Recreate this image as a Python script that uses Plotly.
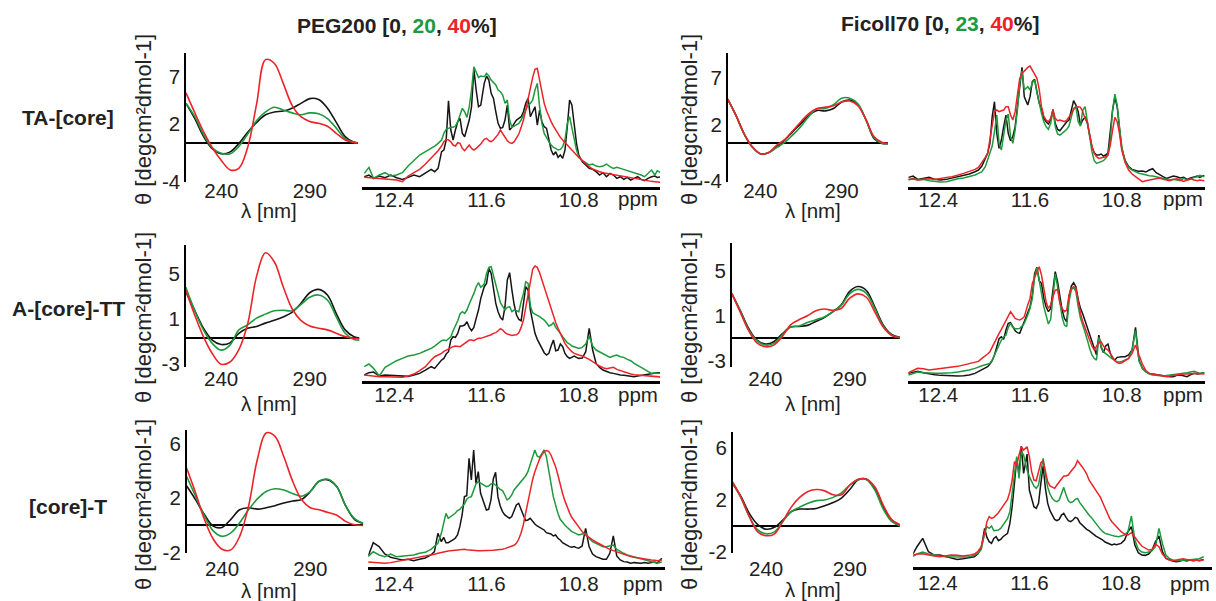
import plotly.graph_objects as go

W, H = 1216, 601

# ---------------- data ----------------
WAVELENGTH = [220, 225, 230, 235, 240, 245, 250, 255, 260, 265, 270,
              275, 280, 285, 290, 295, 300, 305, 310, 315, 320]

PPM = [12.66, 12.62, 12.58, 12.53, 12.48, 12.43, 12.38, 12.33, 12.28, 12.23,
       12.18, 12.13, 12.08, 12.05, 12.02, 11.99, 11.97, 11.95, 11.93, 11.91,
       11.89, 11.87, 11.85, 11.83, 11.81, 11.79, 11.77, 11.75, 11.73, 11.71,
       11.69, 11.67, 11.65, 11.62, 11.60, 11.58, 11.56, 11.54, 11.52, 11.50,
       11.48, 11.46, 11.44, 11.42, 11.40, 11.38, 11.36, 11.34, 11.32, 11.30,
       11.28, 11.26, 11.24, 11.22, 11.20, 11.18, 11.16, 11.14, 11.12, 11.10,
       11.08, 11.06, 11.04, 11.02, 11.00, 10.98, 10.96, 10.94, 10.92, 10.90,
       10.88, 10.86, 10.84, 10.82, 10.80, 10.77, 10.74, 10.71, 10.68, 10.65,
       10.62, 10.59, 10.56, 10.53, 10.50, 10.47, 10.44, 10.41, 10.38, 10.35,
       10.32, 10.29, 10.26, 10.23, 10.20, 10.17, 10.14, 10.12, 10.08]

CD_TICKS_X = [240, 290]
NMR_TICKS_X = [12.4, 11.6, 10.8]

# CD spectra (theta) -- PEG200 0 / 20 / 40 %
CD_PEG_TA_0 = [4.2, 2.6, 0.7, -0.6, -1.1, -0.9, 0.0, 1.2, 2.2, 3.0, 3.3, 3.4, 3.7, 4.2, 4.7, 4.6, 3.7, 2.2, 0.7, 0.1, 0.0]
CD_PEG_TA_20 = [4.2, 2.8, 0.9, -0.5, -1.05, -1.1, -0.3, 1.0, 2.4, 3.3, 3.8, 3.5, 3.2, 3.0, 3.2, 3.1, 2.6, 1.6, 0.5, 0.1, 0.0]
CD_PEG_TA_40 = [5.3, 3.2, 1.2, -0.5, -1.8, -2.8, -2.6, -0.35, 4.2, 8.8, 8.4, 6.3, 4.0, 2.8, 2.3, 2.1, 1.8, 1.05, 0.35, 0.1, 0.0]

CD_PEG_ATT_0 = [4.15, 2.5, 0.9, -0.15, -0.55, -0.4, 0.45, 0.9, 1.05, 1.35, 1.6, 1.9, 2.3, 3.1, 4.05, 4.35, 3.85, 2.2, 0.75, 0.15, 0.0]
CD_PEG_ATT_20 = [4.55, 2.5, 0.75, -0.45, -1.05, -0.6, 0.75, 1.2, 1.8, 2.15, 2.45, 2.5, 2.45, 3.0, 3.65, 3.85, 3.4, 1.9, 0.45, -0.1, -0.15]
CD_PEG_ATT_40 = [4.3, 2.1, 0.15, -1.35, -2.3, -2.1, -1.0, 1.3, 5.5, 7.6, 6.8, 4.6, 2.65, 1.6, 1.1, 0.9, 0.75, 0.45, 0.15, 0.0, -0.05]

CD_PEG_CT_0 = [2.9, 1.9, 0.8, -0.05, -0.15, 0.45, 1.15, 1.3, 1.2, 1.3, 1.45, 1.65, 1.8, 1.9, 2.5, 3.25, 3.35, 2.85, 1.45, 0.45, 0.15]
CD_PEG_CT_20 = [3.6, 2.15, 0.7, -0.4, -0.8, -0.55, 0.2, 1.15, 1.95, 2.5, 2.7, 2.6, 2.35, 2.15, 2.5, 3.25, 3.4, 2.85, 1.45, 0.5, 0.15]
CD_PEG_CT_40 = [4.2, 2.4, 0.45, -1.0, -1.75, -1.8, -0.8, 1.4, 4.85, 6.8, 6.55, 5.05, 3.25, 1.9, 1.3, 1.15, 0.95, 0.75, 0.3, 0.05, 0.0]

# CD spectra -- Ficoll70 0 / 23 / 40 %
CD_FIC_TA_0 = [4.7, 3.0, 1.05, -0.35, -1.1, -1.0, -0.35, 0.35, 1.25, 2.1, 3.0, 3.5, 3.45, 3.7, 4.4, 4.6, 4.1, 2.5, 0.5, 0.0, 0.0]
CD_FIC_TA_23 = [4.7, 3.0, 1.05, -0.35, -1.1, -1.0, -0.45, 0.1, 0.9, 1.8, 2.9, 3.7, 3.7, 4.1, 4.8, 4.8, 4.2, 2.5, 0.6, 0.0, 0.0]
CD_FIC_TA_40 = [4.7, 3.0, 1.05, -0.35, -1.1, -1.0, -0.2, 0.4, 1.35, 2.3, 3.2, 3.7, 3.85, 4.0, 4.4, 4.5, 4.0, 2.5, 0.7, 0.1, 0.0]

CD_FIC_ATT_0 = [4.0, 2.5, 0.9, -0.15, -0.5, -0.3, 0.4, 1.0, 1.05, 1.15, 1.5, 1.85, 2.35, 2.95, 4.15, 4.6, 4.25, 2.8, 1.2, 0.35, 0.1]
CD_FIC_ATT_23 = [4.0, 2.45, 0.8, -0.2, -0.6, -0.45, 0.3, 1.0, 1.1, 1.4, 1.65, 1.9, 2.35, 2.9, 3.95, 4.35, 4.0, 2.65, 1.1, 0.3, 0.05]
CD_FIC_ATT_40 = [4.0, 2.35, 0.7, -0.4, -0.75, -0.6, 0.15, 1.2, 1.65, 2.0, 2.45, 2.6, 2.5, 2.65, 3.55, 3.95, 3.65, 2.35, 1.0, 0.25, 0.05]

CD_FIC_CT_0 = [3.25, 2.25, 0.95, 0.1, -0.25, -0.1, 0.45, 1.1, 1.3, 1.3, 1.35, 1.55, 1.8, 2.15, 2.8, 3.55, 3.6, 2.9, 1.45, 0.45, 0.0]
CD_FIC_CT_23 = [3.3, 2.15, 0.7, -0.3, -0.6, -0.45, 0.35, 1.1, 1.45, 1.75, 1.95, 2.0, 2.2, 2.55, 3.15, 3.55, 3.55, 2.75, 1.3, 0.35, 0.0]
CD_FIC_CT_40 = [3.4, 2.2, 0.7, -0.45, -0.75, -0.6, 0.35, 1.45, 2.2, 2.65, 2.8, 2.7, 2.4, 2.4, 3.15, 3.6, 3.6, 3.0, 1.6, 0.5, 0.1]

# 1H NMR imino spectra (arbitrary intensity) -- PEG200
NMR_PEG_TA_0 = [30, 35, 25, 32, 27, 35, 27, 22, 28, 35,
                30, 40, 52, 45, 55, 105, 110, 140, 258, 170,
                140, 170, 195, 205, 160, 150, 175, 200, 240, 352,
                290, 240, 245, 310, 332, 320, 280, 265, 225, 190,
                175, 178, 200, 245, 170, 178, 190, 200, 205, 210,
                225, 250, 265, 210, 225, 240, 185, 230, 195, 180,
                175, 140, 110, 95, 105, 88, 95, 85, 110, 180,
                260, 245, 190, 130, 95, 75, 65, 55, 52, 45,
                35, 42, 30, 40, 35, 25, 30, 22, 28, 20,
                25, 30, 22, 18, 25, 30, 32, 28, 30]
NMR_PEG_TA_20 = [40, 58, 25, 35, 42, 32, 35, 42, 62, 78,
                 95, 105, 115, 122, 130, 140, 160, 172, 175, 178,
                 178, 182, 195, 215, 235, 225, 208, 240, 290, 360,
                 345, 328, 332, 330, 340, 332, 320, 312, 305, 290,
                 285, 275, 250, 260, 200, 178, 182, 185, 190, 200,
                 215, 230, 245, 250, 260, 290, 310, 240, 190, 160,
                 145, 135, 125, 118, 115, 110, 112, 120, 140, 190,
                 210, 178, 140, 110, 90, 78, 72, 65, 68, 62,
                 60, 62, 68, 60, 55, 58, 55, 52, 48, 45,
                 42, 38, 35, 30, 40, 50, 35, 48, 40]
NMR_PEG_TA_40 = [28, 27, 26, 25, 24, 22, 20, 15, 32, 42,
                 52, 68, 85, 95, 108, 122, 135, 142, 140, 135,
                 125, 122, 132, 130, 115, 108, 118, 125, 115, 110,
                 115, 122, 128, 142, 145, 138, 135, 140, 148, 157,
                 170, 160, 148, 138, 132, 130, 135, 145, 158, 178,
                 200, 230, 265, 300, 328, 352, 355, 320, 280, 250,
                 228, 210, 195, 182, 170, 160, 148, 140, 132, 125,
                 118, 110, 102, 95, 88, 78, 68, 60, 53, 48,
                 45, 42, 40, 38, 36, 35, 34, 32, 30, 28,
                 26, 24, 22, 20, 18, 16, 15, 14, 13]

NMR_PEG_ATT_0 = [17, 24, 26, 14, 17, 16, 14, 14, 13, 17,
                 22, 32, 42, 37, 50, 62, 67, 80, 87, 122,
                 132, 130, 142, 164, 164, 167, 177, 160, 150, 160,
                 187, 212, 247, 282, 292, 337, 322, 277, 232, 207,
                 190, 182, 222, 302, 324, 272, 227, 197, 184, 180,
                 232, 282, 272, 212, 177, 142, 124, 112, 97, 84,
                 77, 82, 104, 122, 90, 92, 110, 102, 82, 72,
                 67, 70, 74, 70, 67, 68, 87, 157, 92, 52,
                 40, 32, 27, 24, 22, 19, 17, 16, 14, 12,
                 12, 14, 16, 18, 19, 22, 22, 24, 24]
NMR_PEG_ATT_20 = [42, 50, 37, 14, 40, 50, 60, 67, 74, 77,
                  82, 90, 97, 104, 112, 120, 122, 120, 126, 132,
                  150, 164, 180, 200, 207, 202, 212, 230, 244, 262,
                  282, 294, 280, 290, 322, 340, 342, 312, 287, 262,
                  234, 222, 212, 220, 222, 207, 212, 210, 207, 237,
                  262, 297, 292, 224, 204, 200, 197, 192, 187, 182,
                  174, 164, 167, 174, 160, 152, 142, 132, 122, 114,
                  110, 104, 102, 100, 97, 100, 110, 134, 104, 92,
                  87, 80, 77, 70, 74, 77, 72, 70, 64, 60,
                  52, 47, 40, 34, 27, 22, 24, 22, 22]
NMR_PEG_ATT_40 = [17, 15, 13, 12, 12, 12, 11, 10, 14, 20,
                  30, 42, 62, 72, 77, 82, 88, 92, 96, 100,
                  102, 104, 102, 102, 107, 112, 117, 122, 122, 120,
                  124, 127, 127, 130, 132, 136, 138, 142, 144, 150,
                  156, 152, 144, 140, 137, 136, 137, 138, 144, 160,
                  182, 222, 262, 307, 334, 344, 340, 324, 302, 277,
                  257, 234, 214, 194, 174, 157, 140, 124, 112, 102,
                  94, 87, 82, 79, 77, 74, 70, 64, 57, 50,
                  44, 39, 36, 38, 40, 34, 30, 26, 22, 20,
                  18, 17, 16, 14, 14, 13, 12, 11, 11]

NMR_PEG_CT_0 = [32, 37, 74, 62, 40, 30, 26, 22, 24, 20,
                24, 28, 37, 47, 102, 77, 90, 74, 74, 77,
                82, 87, 97, 122, 157, 212, 215, 327, 262, 352,
                252, 287, 222, 192, 172, 174, 202, 265, 285, 212,
                184, 167, 157, 152, 147, 152, 167, 187, 192, 172,
                157, 140, 142, 147, 137, 130, 124, 120, 118, 112,
                104, 102, 100, 94, 97, 87, 82, 74, 70, 64,
                62, 60, 62, 59, 57, 64, 117, 62, 40, 32,
                27, 24, 24, 42, 94, 34, 22, 17, 16, 12,
                14, 12, 12, 14, 12, 14, 16, 12, 27]
NMR_PEG_CT_20 = [30, 34, 47, 37, 32, 40, 32, 34, 36, 37,
                 42, 45, 54, 62, 72, 102, 132, 162, 147, 152,
                 157, 162, 170, 174, 182, 190, 204, 210, 212, 234,
                 250, 257, 252, 246, 242, 244, 250, 252, 247, 240,
                 234, 230, 217, 202, 207, 217, 232, 240, 250, 257,
                 264, 274, 287, 307, 332, 352, 334, 330, 340, 352,
                 332, 297, 252, 212, 184, 162, 144, 134, 127, 120,
                 114, 107, 104, 100, 97, 100, 102, 87, 77, 72,
                 67, 62, 62, 64, 67, 54, 47, 42, 37, 34,
                 32, 30, 26, 22, 19, 16, 13, 12, 16]
NMR_PEG_CT_40 = [17, 16, 14, 13, 12, 14, 17, 20, 24, 27,
                 30, 32, 36, 39, 42, 45, 47, 47, 49, 50,
                 51, 52, 52, 53, 54, 54, 53, 52, 52, 52,
                 51, 50, 50, 50, 49, 50, 50, 51, 52, 52,
                 52, 54, 56, 58, 60, 62, 66, 72, 84, 102,
                 127, 162, 197, 234, 262, 287, 307, 324, 337, 347,
                 350, 348, 337, 322, 302, 277, 247, 222, 200, 180,
                 164, 150, 140, 130, 120, 107, 97, 89, 82, 76,
                 70, 64, 59, 54, 50, 46, 42, 38, 35, 32,
                 30, 28, 26, 24, 23, 22, 21, 20, 21]

# 1H NMR -- Ficoll70
NMR_FIC_TA_0 = [28, 32, 22, 26, 28, 22, 20, 22, 26, 30,
                35, 38, 45, 50, 62, 85, 100, 130, 210, 255,
                160, 115, 140, 180, 215, 160, 138, 150, 180, 240,
                300, 358, 270, 245, 270, 315, 322, 290, 250, 235,
                205, 195, 188, 200, 232, 190, 172, 168, 178, 185,
                195, 200, 225, 258, 245, 225, 185, 200, 208, 190,
                155, 120, 102, 95, 95, 98, 92, 95, 102, 160,
                230, 268, 240, 175, 115, 78, 60, 52, 48, 46,
                47, 44, 50, 54, 42, 35, 30, 25, 28, 32,
                30, 26, 28, 22, 26, 30, 32, 28, 34]
NMR_FIC_TA_23 = [20, 25, 20, 22, 18, 16, 14, 15, 20, 24,
                 26, 30, 35, 40, 45, 60, 80, 100, 122, 165,
                 215, 130, 110, 155, 200, 218, 150, 130, 170, 230,
                 310, 348, 290, 300, 290, 312, 320, 282, 245, 220,
                 195, 180, 172, 190, 228, 180, 158, 155, 160, 165,
                 172, 182, 205, 235, 240, 195, 182, 230, 240, 200,
                 150, 105, 78, 70, 72, 74, 78, 85, 95, 140,
                 230, 278, 245, 180, 120, 75, 58, 50, 45, 40,
                 38, 35, 33, 32, 30, 28, 26, 22, 20, 22,
                 20, 18, 25, 20, 22, 28, 30, 34, 30]
NMR_FIC_TA_40 = [22, 23, 20, 22, 24, 22, 26, 28, 30, 34,
                 40, 46, 52, 58, 72, 88, 100, 140, 185, 225,
                 230, 225, 228, 230, 240, 240, 215, 200, 225, 275,
                 325, 340, 348, 358, 362, 350, 340, 325, 292, 240,
                 212, 200, 195, 205, 230, 205, 198, 200, 198, 195,
                 200, 208, 218, 232, 238, 240, 238, 225, 205, 195,
                 155, 120, 100, 90, 85, 86, 88, 90, 95, 125,
                 170, 208, 195, 160, 110, 72, 50, 38, 30, 22,
                 15, 18, 20, 22, 24, 26, 22, 20, 18, 22,
                 24, 20, 16, 20, 24, 20, 18, 20, 18]

NMR_FIC_ATT_0 = [22, 24, 28, 24, 20, 18, 16, 15, 14, 14,
                 15, 17, 22, 27, 32, 38, 42, 50, 60, 77,
                 102, 126, 132, 124, 152, 172, 174, 160, 150, 144,
                 142, 160, 177, 202, 222, 257, 322, 340, 300, 292,
                 247, 222, 207, 217, 272, 327, 297, 247, 212, 187,
                 177, 252, 284, 294, 282, 244, 217, 200, 180, 160,
                 140, 120, 97, 77, 137, 100, 84, 104, 110, 82,
                 67, 62, 70, 72, 72, 72, 77, 92, 160, 62,
                 37, 27, 22, 20, 18, 17, 16, 14, 12, 12,
                 16, 17, 14, 12, 18, 22, 20, 22, 24]
NMR_FIC_ATT_23 = [17, 22, 26, 24, 22, 22, 22, 22, 24, 26,
                  28, 32, 37, 42, 45, 48, 50, 52, 62, 77,
                  92, 110, 122, 132, 136, 160, 172, 160, 156, 156,
                  157, 164, 172, 197, 217, 247, 312, 340, 294, 262,
                  222, 192, 170, 184, 247, 320, 282, 232, 190, 167,
                  162, 237, 272, 280, 267, 222, 187, 167, 147, 122,
                  97, 77, 67, 62, 130, 104, 87, 80, 76, 70,
                  64, 60, 57, 56, 58, 62, 67, 92, 150, 60,
                  37, 26, 20, 17, 16, 14, 14, 16, 17, 19,
                  20, 21, 22, 24, 26, 28, 25, 22, 24]
NMR_FIC_ATT_40 = [24, 30, 37, 36, 32, 34, 37, 39, 41, 43,
                  47, 50, 54, 58, 67, 74, 80, 87, 102, 117,
                  127, 142, 154, 167, 182, 197, 207, 197, 187, 184,
                  182, 186, 192, 227, 247, 292, 312, 327, 342, 317,
                  277, 237, 217, 227, 252, 272, 274, 232, 217, 207,
                  212, 257, 277, 282, 277, 237, 202, 177, 157, 137,
                  122, 104, 92, 104, 114, 117, 104, 97, 92, 82,
                  70, 60, 54, 52, 54, 60, 67, 82, 107, 77,
                  50, 30, 22, 20, 18, 17, 14, 12, 14, 16,
                  17, 19, 20, 20, 21, 22, 22, 21, 20]

NMR_FIC_CT_0 = [28, 35, 60, 85, 45, 35, 35, 30, 26, 22,
                24, 26, 30, 38, 55, 115, 88, 75, 70, 85,
                90, 78, 82, 90, 95, 100, 130, 180, 250, 325,
                275, 362, 280, 338, 230, 200, 180, 175, 190, 250,
                302, 235, 190, 168, 155, 142, 138, 142, 155, 160,
                148, 138, 135, 140, 148, 145, 132, 125, 120, 112,
                108, 102, 98, 92, 88, 85, 80, 74, 70, 68,
                65, 68, 66, 68, 70, 80, 105, 120, 65, 42,
                35, 34, 38, 50, 75, 92, 45, 25, 20, 17,
                15, 16, 20, 17, 20, 18, 20, 18, 22]
NMR_FIC_CT_23 = [28, 30, 38, 44, 38, 34, 32, 30, 29, 28,
                 29, 30, 34, 40, 52, 100, 120, 115, 122, 108,
                 108, 110, 115, 125, 132, 145, 165, 220, 290, 330,
                 265, 345, 335, 290, 270, 258, 242, 235, 245, 285,
                 325, 275, 238, 218, 205, 198, 195, 200, 218, 238,
                 215, 198, 192, 195, 202, 205, 192, 182, 175, 165,
                 155, 148, 138, 130, 120, 112, 105, 100, 98, 95,
                 94, 92, 90, 90, 92, 95, 105, 152, 80, 52,
                 44, 42, 44, 48, 60, 115, 70, 35, 25, 20,
                 18, 18, 19, 20, 21, 22, 22, 24, 30]
NMR_FIC_CT_40 = [30, 34, 38, 39, 35, 32, 30, 32, 35, 34,
                 32, 34, 38, 45, 60, 100, 135, 150, 145, 148,
                 154, 162, 172, 182, 192, 202, 225, 260, 315, 305,
                 335, 360, 350, 360, 330, 285, 260, 258, 285, 312,
                 318, 282, 255, 242, 238, 235, 245, 255, 262, 272,
                 272, 275, 285, 295, 302, 318, 310, 300, 290, 278,
                 260, 250, 240, 230, 220, 208, 192, 175, 160, 145,
                 135, 128, 120, 112, 105, 98, 95, 102, 90, 75,
                 62, 55, 50, 52, 68, 60, 38, 26, 20, 18,
                 20, 22, 24, 22, 20, 18, 20, 18, 20]

# ---------------- style / layout ----------------
FONT = "Arial, Liberation Sans, sans-serif"
BLACK, GREEN, RED = "#151515", "#1d9a3d", "#ec2328"
TXT = "#222222"
TICK_SIZE = 20.5


def fx(px):
    return px / W


def fy(py):
    return 1 - py / H


# (kind, x_left, x_right, y_top, y_bottom, xrange, yrange, ytickvals, yticktext, x_label_standoff, series)
PANELS = [
    ("cd", 186, 357.5, 53, 182, [220, 317], [-4.07, 9.5], [7, 2, -4], ["7", "2", "-4"], -6,
     [CD_PEG_TA_0, CD_PEG_TA_20, CD_PEG_TA_40]),
    ("nmr", 362, 660, 50, 186.7, [12.68, 10.096], None, None, None, -7,
     [NMR_PEG_TA_0, NMR_PEG_TA_20, NMR_PEG_TA_40]),
    ("cd", 727.7, 888, 53, 182, [220, 318.5], [-4.1, 9.6], [7, 2, -4], ["7", "2", "-4"], -6,
     [CD_FIC_TA_0, CD_FIC_TA_23, CD_FIC_TA_40]),
    ("nmr", 907.7, 1205, 50, 186.7, [12.667, 10.074], None, None, None, -7,
     [NMR_FIC_TA_0, NMR_FIC_TA_23, NMR_FIC_TA_40]),

    ("cd", 185.7, 359.3, 245, 366.7, [220, 318], [-2.52, 8.29], [5.7, 1.7, -2.3], ["5", "1", "-3"], -2,
     [CD_PEG_ATT_0, CD_PEG_ATT_20, CD_PEG_ATT_40]),
    ("nmr", 362, 660, 245, 380.7, [12.68, 10.096], None, None, None, -6,
     [NMR_PEG_ATT_0, NMR_PEG_ATT_20, NMR_PEG_ATT_40]),
    ("cd", 731.7, 900, 243.3, 366.7, [220, 320], [-2.52, 8.44], [6.0, 2.0, -2.0], ["5", "1", "-3"], -2,
     [CD_FIC_ATT_0, CD_FIC_ATT_23, CD_FIC_ATT_40]),
    ("nmr", 907.7, 1205, 245, 380.7, [12.667, 10.074], None, None, None, -6,
     [NMR_FIC_ATT_0, NMR_FIC_ATT_23, NMR_FIC_ATT_40]),

    ("cd", 186.7, 363.3, 430, 553.3, [220, 320], [-2.05, 7.02], [6, 2, -2], ["6", "2", "-2"], 1,
     [CD_PEG_CT_0, CD_PEG_CT_20, CD_PEG_CT_40]),
    ("nmr", 368.3, 665, 430, 567.3, [12.623, 10.052], None, None, None, -4,
     [NMR_PEG_CT_0, NMR_PEG_CT_20, NMR_PEG_CT_40]),
    ("cd", 732.7, 900, 431.7, 553.3, [220, 320], [-2.1, 7.25], [6, 2, -2], ["6", "2", "-2"], 1,
     [CD_FIC_CT_0, CD_FIC_CT_23, CD_FIC_CT_40]),
    ("nmr", 913.3, 1211.7, 430, 566.7, [12.612, 10.01], None, None, None, -4,
     [NMR_FIC_CT_0, NMR_FIC_CT_23, NMR_FIC_CT_40]),
]

fig = go.Figure()
layout = {}
tickfont = dict(family=FONT, size=TICK_SIZE, color=TXT)

for i, (kind, xl, xr, yt, yb, xrange_, yrange_, ytv, ytt, xso, series) in enumerate(PANELS, start=1):
    xa = "x" if i == 1 else f"x{i}"
    ya = "y" if i == 1 else f"y{i}"
    xkey = "xaxis" if i == 1 else f"xaxis{i}"
    ykey = "yaxis" if i == 1 else f"yaxis{i}"
    colors = [BLACK, GREEN, RED]
    if kind == "cd":
        for vals, col in zip(series, colors):
            fig.add_trace(go.Scatter(x=WAVELENGTH, y=vals, mode="lines",
                                     line=dict(color=col, width=1.6, shape="spline", smoothing=1.0),
                                     xaxis=xa, yaxis=ya, showlegend=False, hoverinfo="skip"))
        layout[xkey] = dict(domain=[fx(xl), fx(xr)], range=xrange_, anchor=ya,
                            showline=False, showgrid=False, zeroline=False,
                            tickvals=CD_TICKS_X, ticks="", tickfont=tickfont,
                            ticklabelstandoff=xso, automargin=False)
        layout[ykey] = dict(domain=[fy(yb), fy(yt)], range=yrange_, anchor=xa,
                            showline=True, linecolor="black", linewidth=1.5,
                            showgrid=False, zeroline=True, zerolinecolor="black",
                            zerolinewidth=1.5, tickvals=ytv, ticktext=ytt, ticks="",
                            tickfont=tickfont, automargin=False)
    else:
        for vals, col in zip(series, colors):
            fig.add_trace(go.Scatter(x=PPM, y=vals, mode="lines",
                                     line=dict(color=col, width=1.5),
                                     xaxis=xa, yaxis=ya, showlegend=False, hoverinfo="skip"))
        layout[xkey] = dict(domain=[fx(xl), fx(xr)], range=xrange_, anchor=ya,
                            showline=True, linecolor="black", linewidth=3,
                            showgrid=False, zeroline=False,
                            tickvals=NMR_TICKS_X, ticktext=[f"{v:.1f}" for v in NMR_TICKS_X],
                            ticks="", tickfont=tickfont, ticklabelstandoff=xso,
                            automargin=False)
        layout[ykey] = dict(domain=[fy(yb), fy(yt)], range=[0, (yb - yt) * 3],
                            anchor=xa, visible=False, showgrid=False, zeroline=False)

annotations = []


def ann(text, x, y, size=18, angle=0, xanchor="center", bold=False):
    t = f"<b>{text}</b>" if bold else text
    annotations.append(dict(text=t, x=fx(x), y=fy(y), xref="paper", yref="paper",
                            xanchor=xanchor, yanchor="middle", showarrow=False,
                            textangle=angle, font=dict(family=FONT, size=size, color=TXT)))


ann(f"PEG200 [0, <span style='color:{GREEN}'>20</span>, <span style='color:{RED}'>40</span>%]",
    397, 26, size=21, bold=True)
ann(f"Ficoll70 [0, <span style='color:{GREEN}'>23</span>, <span style='color:{RED}'>40</span>%]",
    940, 24, size=21, bold=True)

for label, yc in [("TA-[core]", 117), ("A-[core]-TT", 308), ("[core]-T", 506)]:
    ann(label, 68, yc, size=21, bold=True)

for xc in (143, 689):
    for yc in (120, 318, 505):
        ann("θ [degcm²dmol-1]", xc, yc, size=22, angle=-90)

for xc, ys in ((269, (210, 403, 590)), (813, (210, 403, 589))):
    for yc in ys:
        ann("λ [nm]", xc, yc, size=TICK_SIZE)

for xr, yc in ((660, 199), (1205, 199), (660, 394), (1205, 394), (665, 583), (1211.7, 583)):
    ann("ppm", xr, yc, size=TICK_SIZE, xanchor="right")

fig.update_layout(width=W, height=H, autosize=False,
                  margin=dict(l=0, r=0, t=0, b=0),
                  paper_bgcolor="white", plot_bgcolor="white",
                  showlegend=False, annotations=annotations, **layout)

fig.write_html("out.html",
               config={"displayModeBar": False},
               post_script="document.body.style.margin='0px';"
                           "document.body.style.overflow='hidden';"
                           "document.documentElement.style.overflow='hidden';")
